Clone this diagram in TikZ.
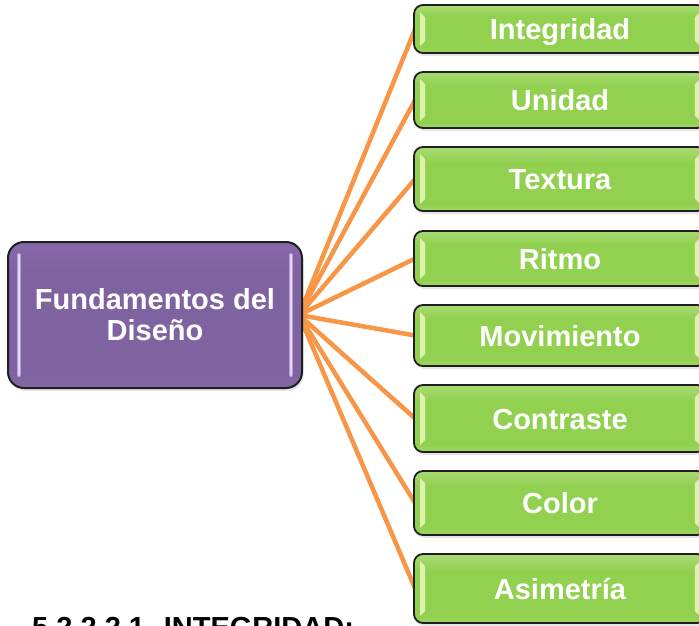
\documentclass[tikz,border=0pt]{standalone}
\usepackage{fontspec}
\setmainfont{Liberation Sans}
\usetikzlibrary{shadows}
\pgfdeclarelayer{background}
\pgfsetlayers{background,main}
\definecolor{gTop}{HTML}{A9DB74}
\definecolor{gMid}{HTML}{92D050}
\definecolor{gBot}{HTML}{A0D766}
\definecolor{pTop}{HTML}{8769A9}
\definecolor{pMid}{HTML}{7F63A1}
\definecolor{pBot}{HTML}{8367A5}
\definecolor{conncol}{HTML}{F79646}
\definecolor{bevel}{HTML}{E9F8BE}
\definecolor{plight}{HTML}{E4D6F8}
\definecolor{pedge}{HTML}{B49DD6}
\pgfdeclareverticalshading{gshade}{100bp}{color(0bp)=(gBot); color(25bp)=(gBot); color(30bp)=(gMid); color(63bp)=(gMid); color(75bp)=(gTop); color(100bp)=(gTop)}
\pgfdeclareverticalshading{pshade}{100bp}{color(0bp)=(pBot); color(25bp)=(pBot); color(32bp)=(pMid); color(65bp)=(pMid); color(75bp)=(pTop); color(100bp)=(pTop)}
\begin{document}
\begin{tikzpicture}[x=1pt,y=-1pt,
  boxfont/.style={font=\fontsize{29}{31}\selectfont\bfseries},
  gbox/.style={draw=black!88, line width=1.8pt, rounded corners=9pt,
    shading=gshade, text=white, boxfont,
    minimum width=292pt, text height=21pt, text depth=0pt, inner sep=0pt,
    drop shadow={shadow xshift=1.5pt, shadow yshift=-3pt, opacity=0.2}},
  pbox/.style={draw=black!88, line width=2pt, rounded corners=16pt,
    shading=pshade, text=white, boxfont, align=center,
    minimum width=294pt, minimum height=146pt, inner sep=0pt,
    drop shadow={shadow xshift=1.5pt, shadow yshift=-3pt, opacity=0.2}},
  conn/.style={draw=conncol, line width=4.5pt},
  gbevel/.style={fill=bevel, opacity=0.85},
  phl/.style={draw=pedge, line width=4.5pt, line cap=round},
  phlin/.style={draw=plight, line width=2.5pt, line cap=round},
  title/.style={font=\fontsize{29}{31}\selectfont\bfseries, text=black, inner sep=0pt}
]
\useasboundingbox (0,0) rectangle (699,625);

\node[pbox] (main) at (155,315) {Fundamentos del\\Diseño};

\node[gbox, minimum height=48pt] (g1) at (560,29)    {Integridad};
\node[gbox, minimum height=56pt] (g2) at (560,100)   {Unidad};
\node[gbox, minimum height=64pt] (g3) at (560,179)   {Textura};
\node[gbox, minimum height=55pt] (g4) at (560,258.5) {Ritmo};
\node[gbox, minimum height=61pt] (g5) at (560,335.5) {Movimiento};
\node[gbox, minimum height=67pt] (g6) at (560,418.5) {Contraste};
\node[gbox, minimum height=64pt] (g7) at (560,503)   {Color};
\node[gbox, minimum height=69pt] (g8) at (560,588.5) {Asimetría};

\foreach \n in {g1,g2,g3,g4,g5,g6,g7,g8} {
  \fill[gbevel] ([xshift=7pt,yshift=-8pt]\n.north west) -- ([xshift=12pt,yshift=-13pt]\n.north west)
     -- ([xshift=12pt,yshift=13pt]\n.south west) -- ([xshift=7pt,yshift=8pt]\n.south west) -- cycle;
  \fill[gbevel] ([xshift=-7pt,yshift=-8pt]\n.north east) -- ([xshift=-12pt,yshift=-13pt]\n.north east)
     -- ([xshift=-12pt,yshift=13pt]\n.south east) -- ([xshift=-7pt,yshift=8pt]\n.south east) -- cycle;
}

\draw[phl] ([xshift=12pt,yshift=-14pt]main.north west) -- ([xshift=12pt,yshift=14pt]main.south west);
\draw[phlin] ([xshift=12pt,yshift=-14pt]main.north west) -- ([xshift=12pt,yshift=14pt]main.south west);
\draw[phl] ([xshift=-12pt,yshift=-14pt]main.north east) -- ([xshift=-12pt,yshift=14pt]main.south east);
\draw[phlin] ([xshift=-12pt,yshift=-14pt]main.north east) -- ([xshift=-12pt,yshift=14pt]main.south east);

\begin{pgfonlayer}{background}
  \fill[white] (0,0) rectangle (699,625);
  \foreach \n in {g1,g2,g3,g4,g5,g6,g7,g8}
    \draw[conn] ([xshift=-4pt]main.east) -- ([xshift=2pt]\n.west);
\end{pgfonlayer}

\node[title, anchor=base west] (head) at (32,637) {5.2.2.2.1. INTEGRIDAD:};
\end{tikzpicture}
\end{document}
